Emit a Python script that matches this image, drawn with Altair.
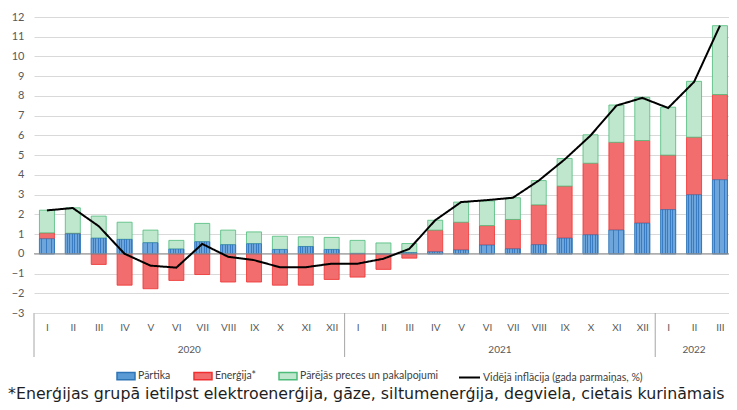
import altair as alt
import pandas as pd

# ---- data ----
month_labels = ["I", "II", "III", "IV", "V", "VI", "VII", "VIII", "IX", "X", "XI", "XII"]
years = [2020] * 12 + [2021] * 12 + [2022] * 3
series_names = ["Pārtika", "Enerģija*", "Pārējās preces un pakalpojumi"]
line_name = "Vidējā inflācija (gada parmaiņas, %)"

partika = [0.76, 1.01, 0.79, 0.73, 0.56, 0.24, 0.61, 0.46, 0.51, 0.22, 0.37, 0.22,
           0.02, 0.00, 0.06, 0.10, 0.19, 0.44, 0.25, 0.46, 0.79, 0.96, 1.20, 1.55,
           2.24, 2.99, 3.75]
energija = [0.30, 0.03, -0.54, -1.59, -1.77, -1.35, -1.05, -1.43, -1.43, -1.59, -1.59, -1.30,
            -1.18, -0.79, -0.22, 1.10, 1.41, 0.99, 1.49, 2.02, 2.64, 3.63, 4.45, 4.19,
            2.76, 2.92, 4.32]
parejas = [1.15, 1.29, 1.12, 0.87, 0.64, 0.44, 0.93, 0.74, 0.60, 0.67, 0.49, 0.61,
           0.66, 0.55, 0.46, 0.50, 1.02, 1.25, 1.10, 1.23, 1.40, 1.44, 1.89, 2.19,
           2.43, 2.83, 3.49]
inflacija = [2.20, 2.32, 1.40, 0.00, -0.60, -0.70, 0.50, -0.15, -0.32, -0.68, -0.68, -0.50,
             -0.50, -0.25, 0.25, 1.70, 2.62, 2.72, 2.84, 3.71, 4.78, 5.99, 7.51, 7.90,
             7.39, 8.71, 11.56]

year_labels = ["2020", "2021", "2022"]
year_centers = [5.5, 17.5, 25.0]
year_separators = [-0.5, 11.5, 23.5]
footnote = "*Enerģijas grupā ietilpst elektroenerģija, gāze, siltumenerģija, degviela, cietais kurināmais"

# ---- tables ----
rows = []
for i in range(len(years)):
    for order, (name, vals) in enumerate(zip(series_names, [partika, energija, parejas])):
        rows.append({"idx": i, "series": name, "value": vals[i], "order": order})
bars_df = pd.DataFrame(rows)
line_df = pd.DataFrame({"idx": list(range(len(years))), "infl": inflacija, "s": [line_name] * len(years)})
years_df = pd.DataFrame({"year": year_labels, "center": year_centers})
sep_df = pd.DataFrame({"sep": year_separators})
zero_df = pd.DataFrame({"z": [0]})
note_df = pd.DataFrame({"t": [footnote]})

# ---- styling ----
W, H = 695, 296
FONT = "Lato"
roman = "[" + ",".join("'%s'" % m for m in month_labels) + "]"

x_scale = alt.Scale(domain=[-0.5, 26.35], nice=False, zero=False, padding=0)
y_scale = alt.Scale(domain=[-3, 12], nice=False, zero=False, padding=0)

x_axis = alt.Axis(values=list(range(len(years))), tickCount=40, labelExpr=roman + "[datum.value % 12]",
                  grid=False, ticks=False, domain=False, labelPadding=9, labelFontSize=10,
                  labelFont=FONT, labelColor="#595959", labelOverlap=False, labelFlush=False,
                  title=None)
y_axis = alt.Axis(values=list(range(-3, 13)), tickCount=40, format="d", grid=True, gridColor="#d9d9d9",
                  gridWidth=1, ticks=False, domain=False, labelPadding=10, labelFontSize=11, labelFont=FONT,
                  labelColor="#595959", labelOverlap=False, labelFlush=False, title=None)

stripes = []
n = 6
for k in range(n):
    stripes += [alt.GradientStop(offset=k / n, color="#6ea6dc"),
                alt.GradientStop(offset=(k + 0.65) / n, color="#6ea6dc"),
                alt.GradientStop(offset=(k + 0.65) / n, color="#3a7cc3"),
                alt.GradientStop(offset=(k + 1) / n, color="#3a7cc3")]
blue_grad = alt.LinearGradient(gradient="linear", stops=stripes, x1=0, x2=1, y1=0, y2=0)

base = alt.Chart(bars_df).transform_stack(
    stack="value", groupby=["idx"], as_=["y0", "y1"],
    sort=[alt.SortField("order", order="ascending")], offset="zero")

bars = base.mark_bar(size=15, strokeWidth=0.8).encode(
    x=alt.X("idx:Q", scale=x_scale, axis=x_axis),
    y=alt.Y("y0:Q", scale=y_scale, axis=y_axis),
    y2="y1:Q",
    color=alt.Color("series:N",
                    scale=alt.Scale(domain=series_names, range=["#5b9bd5", "#f26d6d", "#bfe7cd"]),
                    legend=alt.Legend(orient="none", legendX=82, legendY=349, direction="horizontal",
                                      title=None, symbolType="M-1,-0.4H1V0.4H-1Z", symbolSize=324,
                                      labelFont=FONT, labelFontSize=10.5, labelColor="#404040",
                                      labelOffset=2, columnPadding=20, symbolOpacity=1)),
    stroke=alt.Stroke("series:N",
                      scale=alt.Scale(domain=series_names, range=["#2e75b6", "#f03030", "#4dbb7a"]),
                      legend=None),
)

blue_overlay = base.transform_filter(alt.datum.series == series_names[0]).mark_bar(
    size=15, fill=blue_grad, stroke="#2e75b6", strokeWidth=0.6).encode(
    x=alt.X("idx:Q", scale=x_scale, axis=x_axis), y=alt.Y("y0:Q", scale=y_scale, axis=y_axis), y2="y1:Q")

zero = alt.Chart(zero_df).mark_rule(color="#8c8c8c", strokeWidth=1).encode(
    y=alt.Y("z:Q", scale=y_scale, axis=y_axis))

line = alt.Chart(line_df).mark_line(color="black", strokeWidth=2).encode(
    x=alt.X("idx:Q", scale=x_scale, axis=x_axis),
    y=alt.Y("infl:Q", scale=y_scale, axis=y_axis),
    strokeDash=alt.StrokeDash("s:N", scale=alt.Scale(domain=[line_name], range=[[1, 0]]),
                              legend=alt.Legend(orient="none", legendX=424, legendY=349, title=None,
                                                symbolType="stroke", symbolSize=441,
                                                symbolStrokeWidth=2, symbolStrokeColor="black",
                                                labelFont=FONT, labelFontSize=10.5,
                                                labelColor="#404040", labelOffset=2)),
)

seps = alt.Chart(sep_df).mark_rule(color="#a6a6a6", strokeWidth=1).encode(
    x=alt.X("sep:Q", scale=x_scale, axis=x_axis), y=alt.value(H), y2=alt.value(H + 44))

year_text = alt.Chart(years_df).mark_text(font=FONT, fontSize=10, color="#595959", baseline="middle").encode(
    x=alt.X("center:Q", scale=x_scale, axis=x_axis), y=alt.value(H + 37), text="year:N")

note = alt.Chart(note_df).mark_text(font="DejaVu Sans", fontSize=15.8, color="#1e1e1e", align="left",
                                    baseline="alphabetic").encode(
    x=alt.value(-26), y=alt.value(H + 86), text="t:N")

chart = alt.layer(bars, blue_overlay, zero, line, seps, year_text, note).properties(
    width=W, height=H,
    autosize=alt.AutoSizeParams(type="none"),
    padding={"left": 26, "top": 9, "right": 0, "bottom": 97},
    background="white",
).configure_view(stroke=None)

chart.save("out.html", embed_options={"renderer": "svg", "actions": False})
